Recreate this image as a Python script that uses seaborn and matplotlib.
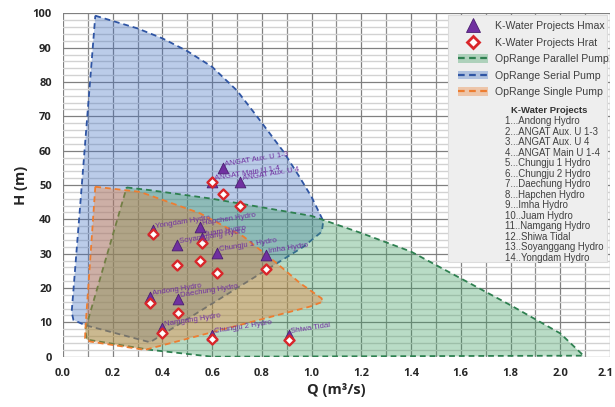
import numpy as np
import matplotlib
matplotlib.use("Agg")
import matplotlib.pyplot as plt
import matplotlib.transforms as mtransforms
import seaborn as sns
import pandas as pd
from matplotlib.colors import to_rgba
from matplotlib.patches import Patch, Rectangle
from matplotlib.lines import Line2D
from matplotlib.ticker import MultipleLocator, FixedLocator, FixedFormatter

# ── data ──────────────────────────────────────────────────────────────────────
projects = ["Andong Hydro", "ANGAT Aux. U 1-3", "ANGAT Aux. U 4", "ANGAT Main U 1-4",
            "Chungju 1 Hydro", "Chungju 2 Hydro", "Daechung Hydro", "Hapchen Hydro",
            "Imha Hydro", "Juam Hydro", "Namgang Hydro", "Shiwa Tidal",
            "Soyanggang Hydro", "Yongdam Hydro"]
q_flow = [0.350, 0.643, 0.714, 0.600, 0.621, 0.601, 0.464, 0.552,
          0.818, 0.560, 0.400, 0.908, 0.458, 0.363]
h_max = [17.5, 54.9, 51.0, 51.0, 30.3, 6.3, 16.7, 37.9,
         29.6, 34.5, 8.3, 6.3, 32.5, 36.9]
h_rat = [15.7, 47.3, 43.9, 51.0, 24.3, 5.1, 12.6, 27.9,
         25.4, 33.0, 6.8, 4.9, 26.7, 35.6]

# operating range outlines (Q, H)
serial_q = [0.130, 0.300, 0.400, 0.500, 0.600, 0.700, 0.780, 0.887, 0.950, 1.000,
            1.047, 1.041, 0.967, 0.350, 0.088, 0.042, 0.035]
serial_h = [99.3, 95.6, 92.7, 89.0, 84.4, 77.5, 70.0, 59.7, 52.5, 46.5,
            39.5, 36.4, 32.0, 4.2, 9.2, 10.7, 13.0]

parallel_q = [0.256, 0.350, 0.600, 0.800, 1.000, 1.200, 1.400, 1.600, 1.800, 2.000,
              2.094, 0.600, 0.350, 0.095, 0.090]
parallel_h = [49.3, 48.5, 46.0, 43.5, 41.0, 36.0, 30.6, 22.8, 15.0, 6.8,
              0.3, 0.0, 2.0, 5.0, 8.0]

single_q = [0.130, 0.310, 0.550, 0.726, 0.860, 0.954, 1.040, 1.045, 0.994,
            0.330, 0.109, 0.089, 0.090]
single_h = [49.5, 48.0, 41.8, 35.0, 27.2, 21.4, 17.0, 16.0, 14.6,
            2.0, 4.4, 5.4, 8.0]

x_ticks = [0.0, 0.2, 0.4, 0.6, 0.8, 1.0, 1.2, 1.4, 1.6, 1.8, 2.0, 2.2]
x_tick_labels = ["0.0", "0.2", "0.4", "0.6", "0.8", "1.0", "1.2", "1.4",
                 "1.6", "1.8", "2.0", "2.1"]

# ── style ─────────────────────────────────────────────────────────────────────
sns.set_theme(style="white")
plt.rcParams["font.family"] = ["Liberation Sans", "DejaVu Sans"]

BLUE, GREEN, ORANGE = "#4472c4", "#3f9e62", "#ed7d31"
BLUE_E, GREEN_E = "#2f55a4", "#2e8050"
PURPLE, RED = "#7030a0", "#d9262a"
TICK_FP = matplotlib.font_manager.FontProperties(family="Open Sans", weight="bold", size=8)

fig = plt.figure(figsize=(6.15, 4.07), dpi=100)
ax = fig.add_axes([0.1024, 0.1236, 0.8894, 0.8437])

# grid
ax.set_axisbelow(True)
ax.xaxis.set_major_locator(FixedLocator(x_ticks))
ax.xaxis.set_major_formatter(FixedFormatter(x_tick_labels))
ax.xaxis.set_minor_locator(MultipleLocator(0.1))
ax.yaxis.set_major_locator(MultipleLocator(10))
ax.yaxis.set_minor_locator(MultipleLocator(2))
ax.grid(which="major", axis="both", color="#808080", lw=0.9)
ax.grid(which="minor", axis="x", color="#8c8c8c", lw=0.9)
ax.grid(which="minor", axis="y", color="#d2d2d2", lw=1.0)
ax.tick_params(which="major", length=5, color="#808080", width=0.8, pad=3)
ax.tick_params(which="minor", length=3, color="#a0a0a0", width=0.6)
for s in ax.spines.values():
    s.set_visible(False)

# operating ranges
dash = (0, (3.2, 2.2))
ax.fill(serial_q, serial_h, fc=to_rgba(BLUE, 0.36), ec=BLUE_E, ls=dash, lw=1.3, zorder=2)
ax.fill(parallel_q, parallel_h, fc=to_rgba(GREEN, 0.36), ec=GREEN_E, ls=dash, lw=1.3, zorder=2)
ax.fill(single_q, single_h, fc=to_rgba(ORANGE, 0.36), ec=ORANGE, ls=dash, lw=1.3, zorder=2)

df = pd.DataFrame({"project": projects, "Q": q_flow, "Hmax": h_max, "Hrat": h_rat})

sns.scatterplot(data=df, x="Q", y="Hmax", marker="^", s=60, color=PURPLE,
                edgecolor="#4a1f70", linewidth=0.6, ax=ax, zorder=4)
sns.scatterplot(data=df, x="Q", y="Hrat", marker="D", s=26, color="white",
                edgecolor=RED, linewidth=1.7, ax=ax, zorder=5)

for _, r in df.iterrows():
    ax.annotate(r["project"], (r["Q"], r["Hmax"]),
                xytext=(2, 0), textcoords="offset points", fontsize=5.6,
                color=PURPLE, rotation=9, rotation_mode="anchor",
                ha="left", va="bottom", zorder=6)

ax.set_xlim(0, 2.2)
ax.set_ylim(0, 100)
ax.set_xlabel("Q (m³/s)", fontsize=10.5, fontweight="bold", family="Open Sans",
              color="#262626", labelpad=3)
ax.set_ylabel("H (m)", fontsize=10.5, fontweight="bold", family="Open Sans",
              color="#262626", labelpad=3)

for lab in ax.get_xticklabels() + ax.get_yticklabels():
    lab.set_fontproperties(TICK_FP)
    lab.set_color("#262626")
# the last x label sits on the figure edge: nudge it inwards a little
last = ax.get_xticklabels()[-1]
last.set_transform(last.get_transform() +
                   mtransforms.ScaledTranslation(-4 / 100, 0, fig.dpi_scale_trans))

# legend panel
ax.add_patch(Rectangle((0.704, 0.276), 0.291, 0.719, transform=ax.transAxes,
                       fc="#eeeeee", ec="#dcdcdc", lw=0.8, zorder=7))
handles = [
    Line2D([], [], ls="none", marker="^", ms=10, color=PURPLE, mec="#4a1f70", mew=0.6),
    Line2D([], [], ls="none", marker="D", ms=6, mfc="white", mec=RED, mew=2.0),
    (Patch(fc=to_rgba(GREEN, 0.36), ec="none"), Line2D([], [], color=GREEN_E, ls=(0, (3, 2)), lw=1.6)),
    (Patch(fc=to_rgba(BLUE, 0.36), ec="none"), Line2D([], [], color=BLUE_E, ls=(0, (3, 2)), lw=1.6)),
    (Patch(fc=to_rgba(ORANGE, 0.36), ec="none"), Line2D([], [], color=ORANGE, ls=(0, (3, 2)), lw=1.6)),
]
labels = ["K-Water Projects Hmax", "K-Water Projects Hrat", "OpRange Parallel Pump",
          "OpRange Serial Pump", "OpRange Single Pump"]
leg = ax.legend(handles, labels, loc="upper left", bbox_to_anchor=(0.715, 0.99),
                frameon=False, fontsize=7.6, handlelength=2.8, handleheight=0.9,
                handletextpad=0.7, labelspacing=0.62, borderaxespad=0)
leg.set_zorder(8)
for t in leg.get_texts():
    t.set_color("#404040")

ax.text(0.889, 0.716, "K-Water Projects", transform=ax.transAxes, ha="center",
        va="center", fontsize=6.8, fontweight="bold", color="#333333", zorder=9)
list_lines = [f"{i + 1}{'...' if i < 9 else '..'}{p}" for i, p in enumerate(projects)]
ax.text(0.808, 0.700, "\n".join(list_lines), transform=ax.transAxes, ha="left",
        va="top", fontsize=6.9, color="#404040", linespacing=1.06, zorder=9)

fig.savefig("out.png", dpi=100)
